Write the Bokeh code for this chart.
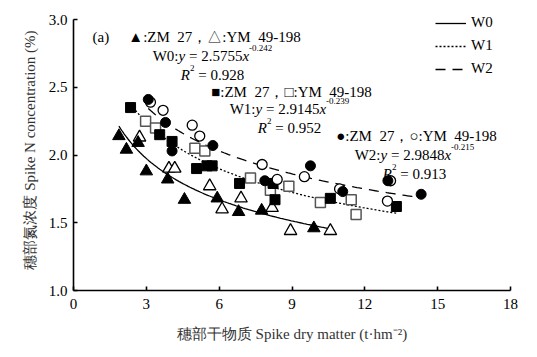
import numpy as np
from bokeh.plotting import figure
from bokeh.models import (Range1d, FixedTicker, Label, Legend, LegendItem,
                          NumeralTickFormatter)
from bokeh.embed import file_html
from bokeh.resources import INLINE

# ---------------- data ----------------
w0_zm_x = [1.87, 2.18, 2.66, 3.00, 3.88, 4.57, 5.92, 6.80, 7.75, 9.90]
w0_zm_y = [2.14, 2.04, 2.09, 1.88, 1.82, 1.67, 1.68, 1.58, 1.59, 1.46]
w0_ym_x = [2.72, 3.93, 4.17, 5.61, 6.12, 6.90, 8.18, 8.94, 10.58]
w0_ym_y = [2.13, 1.90, 1.90, 1.77, 1.60, 1.68, 1.61, 1.44, 1.44]

w1_zm_x = [2.35, 3.55, 4.06, 5.07, 5.50, 5.71, 6.84, 8.22, 8.30, 10.58, 13.30]
w1_zm_y = [2.35, 2.15, 2.10, 1.90, 1.92, 1.92, 1.79, 1.79, 1.67, 1.68, 1.62]
w1_ym_x = [2.97, 3.38, 5.00, 5.41, 7.29, 8.11, 8.87, 10.17, 11.44, 11.64]
w1_ym_y = [2.25, 2.20, 2.05, 2.03, 1.83, 1.74, 1.77, 1.65, 1.67, 1.56]

w2_zm_x = [3.08, 3.79, 4.06, 5.74, 7.88, 9.76, 11.09, 12.95, 14.32]
w2_zm_y = [2.41, 2.24, 2.03, 2.07, 1.81, 1.92, 1.73, 1.81, 1.71]
w2_ym_x = [3.17, 3.69, 4.89, 5.20, 7.77, 8.39, 9.51, 10.96, 13.06, 12.93]
w2_ym_y = [2.39, 2.33, 2.22, 2.14, 1.93, 1.82, 1.84, 1.75, 1.81, 1.66]

# fitted power curves y = a * x^b (as printed on the chart)
fit_names = ["W0", "W1", "W2"]
fit_a = [2.5755, 2.9145, 2.9848]
fit_b = [-0.242, -0.239, -0.215]
fit_r2 = ["0.928", "0.952", "0.913"]

x_ticks = [0, 3, 6, 9, 12, 15, 18]
y_ticks = [1.0, 1.5, 2.0, 2.5, 3.0]
y_lo, y_hi = 1.0, 3.0

# ---------------- figure ----------------
FL, FB = 73, 290          # frame left / bottom in page pixels
Y3 = 19                   # page pixel row of y = 3.0
FT = 9                    # frame top (a little headroom for the legend)
ppu = (FB - Y3) / (y_hi - y_lo)
p = figure(width=537, height=357, x_range=Range1d(0, 18),
           y_range=Range1d(y_lo, y_hi + (Y3 - FT) / ppu),
           output_backend="svg", toolbar_location=None,
           min_border_left=FL, min_border_right=27, min_border_top=FT,
           min_border_bottom=357 - FB)
p.outline_line_color = None
p.xgrid.visible = False
p.ygrid.visible = False
p.background_fill_color = "white"

SERIF = "Liberation Serif"
for ax in (p.xaxis[0], p.yaxis[0]):
    ax.axis_line_width = 1.6
    ax.axis_line_color = "black"
    ax.major_tick_in = 4
    ax.major_tick_out = 0
    ax.major_tick_line_width = 1.6
    ax.minor_tick_line_color = None
    ax.major_label_text_font = SERIF
    ax.major_label_text_font_size = "15px"
    ax.major_label_text_color = "black"
    ax.axis_label_text_font = SERIF
    ax.axis_label_text_font_size = "15px"
    ax.axis_label_text_font_style = "normal"
    ax.axis_label_text_color = "#333333"

p.yaxis.bounds = (y_lo, y_hi)
p.xaxis.ticker = FixedTicker(ticks=x_ticks)
p.yaxis.ticker = FixedTicker(ticks=y_ticks)
p.yaxis.formatter = NumeralTickFormatter(format="0.0")
p.xaxis.major_label_standoff = 8
p.yaxis.major_label_standoff = 6
p.xaxis.axis_label = "穗部干物质 Spike dry matter (t·hm⁻²)"
p.yaxis.axis_label = "穗部氮浓度 Spike N concentration (%)"
p.xaxis.axis_label_standoff = 14
p.yaxis.axis_label_standoff = 8

# ---------------- curves ----------------
groups_x = [w0_zm_x + w0_ym_x, w1_zm_x + w1_ym_x, w2_zm_x + w2_ym_x]
dashes = ["solid", "2 2", "10 7"]
curves = []
for xs, a, b, d in zip(groups_x, fit_a, fit_b, dashes):
    cx = np.linspace(min(xs), max(xs), 120)
    cy = a * cx ** b
    r = p.line(cx, cy, line_color="black", line_width=1.3, line_dash=d)
    curves.append(r)

# ---------------- markers ----------------
OPEN_KW = dict(fill_color="white", line_color="black", line_width=1.3)
p.scatter(w0_ym_x, w0_ym_y, marker="triangle", size=12.5, **OPEN_KW)
p.scatter(w0_zm_x, w0_zm_y, marker="triangle", size=12.5, fill_color="black", line_color="black")
p.scatter(w1_ym_x, w1_ym_y, marker="square", size=10, fill_color="white",
          line_color="#555555", line_width=1.5)
p.scatter(w1_zm_x, w1_zm_y, marker="square", size=10, fill_color="black", line_color="black")
p.scatter(w2_ym_x, w2_ym_y, marker="circle", size=10, **OPEN_KW)
p.scatter(w2_zm_x, w2_zm_y, marker="circle", size=10, fill_color="black", line_color="black")

# ---------------- legend ----------------
legend = Legend(items=[LegendItem(label=n, renderers=[r]) for n, r in zip(fit_names, curves)],
                location=(362, FB - 15 - 60 - 2), orientation="vertical",
                glyph_width=31, glyph_height=16, label_height=16, spacing=6,
                label_standoff=5, padding=0, margin=0,
                border_line_color=None, background_fill_alpha=0,
                label_text_font=SERIF, label_text_font_size="15px",
                label_text_color="black")
p.add_layout(legend, "center")

# ---------------- annotation texts ----------------
NB = "\u00a0"
REG = {" ": 250, NB: 250, ":": 278, "=": 564, ".": 250, "-": 333, "W": 944}
ITAL = {"x": 444, "y": 444, "R": 611}
FS = 15.0
SUP = 9.0


def w_of(text, kind):
    if kind == "ital":
        return sum(ITAL.get(c, 500) for c in text) * FS / 1000
    size = SUP if kind == "sup" else FS
    return sum(REG.get(c, 500) for c in text) * size / 1000


def put(px, py, text, kind="reg", align="left"):
    fs = SUP if kind == "sup" else FS
    p.add_layout(Label(x=px - FL, y=FB - py, x_units="screen", y_units="screen",
                       text=text, text_font=SERIF, text_font_size=f"{fs}px",
                       text_font_style="italic" if kind == "ital" else "normal",
                       text_baseline="alphabetic", text_align=align,
                       text_color="black"))


def put_pieces(cx, py, pieces, raise_px):
    total = sum(w_of(t, k) for t, k in pieces)
    x = cx - total / 2
    for t, k in pieces:
        put(x, py - (raise_px if k == "sup" else 0), t, k)
        x += w_of(t, k)


blocks = [  # centre x, first baseline y
    (214, 36, f"▲:ZM{NB} 27，△:YM{NB} 49-198"),
    (291, 91, f"■:ZM{NB} 27，□:YM{NB} 49-198"),
    (416, 135, f"●:ZM{NB} 27，○:YM{NB} 49-198"),
]
eq_base = [55, 108, 154]
r2_base = [74, 127, 173]

put(92, 36, "(a)")
for (cx, by, head), name, a, b, r2, eb, rb in zip(blocks, fit_names, fit_a, fit_b,
                                                  fit_r2, eq_base, r2_base):
    put(cx, by, head, align="center")
    put_pieces(cx - 2, eb, [(name + ":", "reg"), ("y", "ital"), (f"{NB}={NB}{a}", "reg"),
                            ("x", "ital"), (f"{b}", "sup")], 7.5)
    put_pieces(cx - 2, rb, [("R", "ital"), ("2", "sup"), (f"{NB}={NB}{r2}", "reg")], 7)

open("out.html", "w").write(file_html(p, INLINE))
